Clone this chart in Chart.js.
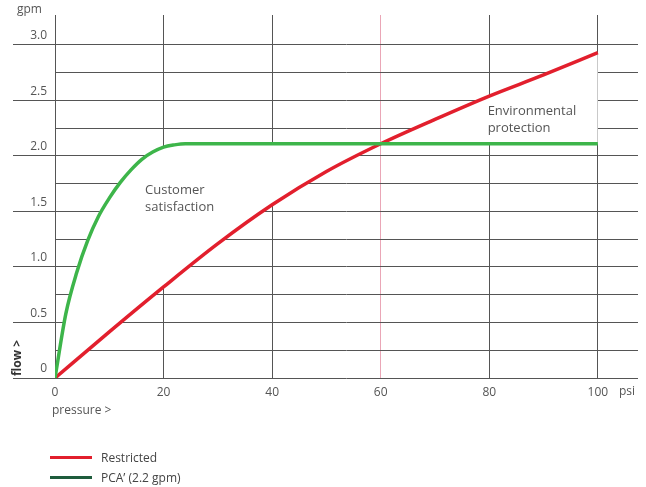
<!DOCTYPE html>
<html>
<head>
<meta charset="utf-8">
<script src="https://cdn.jsdelivr.net/npm/chart.js@4"></script>
<style>
    body { margin: 0; background: #fff; font-family: "Open Sans", sans-serif; }
    .chart-wrap { position: relative; width: 646px; height: 487px; }
    .chart-legend { position: absolute; left: 50px; top: 447px; font-size: 12px; color: #444; }
    .legend-item { display: flex; align-items: center; height: 20px; }
    .legend-line { width: 42px; height: 3px; margin-right: 9px; }
</style>
</head>
<body>
<div class="chart-wrap">
    <canvas id="flowChart"></canvas>
    <div class="chart-legend" id="flowLegend"></div>
</div>
<script>
// PCA curve: pressure (psi) / flow (gpm)
const pcaPressure = [0, 2, 4, 6, 8, 10, 12, 14, 16, 18, 20, 22, 24, 100];
const pcaFlow = [0, 0.58, 0.95, 1.235, 1.455, 1.62, 1.76, 1.875, 1.97, 2.035, 2.08, 2.10, 2.11, 2.11];
// Restricted curve
const restrictedPressure = [0, 10, 20, 30, 40, 50, 60, 70, 80, 90, 100];
const restrictedFlow = [0, 0.415, 0.82, 1.21, 1.56, 1.86, 2.11, 2.33, 2.54, 2.73, 2.93];

const xTicks = [0, 20, 40, 60, 80, 100];
const yTicks = [0, 0.25, 0.5, 0.75, 1.0, 1.25, 1.5, 1.75, 2.0, 2.25, 2.5, 2.75, 3.0];

const seriesNames = ['PCA\u2019 (2.2 gpm)', 'Restricted'];
const notes = [
    { x: 16.6, y: 1.69, lines: ['Customer', 'satisfaction'] },
    { x: 79.7, y: 2.40, lines: ['Environmental', 'protection'] }
];

const textColor = '#555';
const gridColor = '#555';

const toPoints = (xs, ys) => ys.map((y, i) => ({ x: xs[i], y }));

// axis captions and the two region notes
const captionPlugin = {
    id: 'captions',
    afterDraw(chart) {
        const { ctx, scales } = chart;
        ctx.save();
        ctx.fillStyle = textColor;
        ctx.textBaseline = 'middle';
        ctx.font = '12px "Open Sans"';
        ctx.textAlign = 'left';
        ctx.fillText('gpm', 17, 10);
        ctx.fillText('pressure >', 52, 411);
        ctx.fillText('psi', 619, 392);

        ctx.save();
        ctx.translate(18, 358);
        ctx.rotate(-Math.PI / 2);
        ctx.textAlign = 'center';
        ctx.font = 'bold 12px "Open Sans"';
        ctx.fillStyle = '#333';
        ctx.fillText('flow >', 0, 0);
        ctx.restore();

        ctx.font = '13px "Open Sans"';
        notes.forEach(n => {
            const px = scales.x.getPixelForValue(n.x);
            const py = scales.y.getPixelForValue(n.y);
            n.lines.forEach((l, i) => ctx.fillText(l, px, py + i * 17));
        });
        ctx.restore();
    }
};

const chart = new Chart(document.getElementById('flowChart'), {
    type: 'line',
    data: {
        datasets: [
            {
                label: seriesNames[0],
                data: toPoints(pcaPressure, pcaFlow),
                borderColor: '#3db54a',
                legendColor: '#1e5c3c',
                borderWidth: 3.5,
                pointRadius: 0,
                cubicInterpolationMode: 'monotone',
                fill: false
            },
            {
                label: seriesNames[1],
                data: toPoints(restrictedPressure, restrictedFlow),
                borderColor: '#e21f2d',
                legendColor: '#e21f2d',
                borderWidth: 3.5,
                pointRadius: 0,
                cubicInterpolationMode: 'monotone',
                // white band between the curves hides the grid there
                fill: { target: '-1', above: '#fff', below: '#fff' }
            }
        ]
    },
    options: {
        responsive: true,
        maintainAspectRatio: false,
        animation: false,
        layout: { padding: { top: 15, right: 8, left: 0, bottom: 0 } },
        plugins: {
            legend: { display: false },
            tooltip: { enabled: false }
        },
        scales: {
            x: {
                type: 'linear',
                min: 0,
                max: 107.4,
                afterBuildTicks: (scale) => { scale.ticks = xTicks.map(v => ({ value: v })); },
                afterFit: (scale) => { scale.height = 109; },
                border: { display: false },
                grid: {
                    drawTicks: false,
                    lineWidth: 1,
                    color: (c) => (c.tick && c.tick.value === 60 ? '#eaa6b6' : gridColor)
                },
                ticks: {
                    padding: 7,
                    color: textColor,
                    font: { family: 'Open Sans', size: 12 },
                    maxRotation: 0,
                    callback: (v) => String(v)
                }
            },
            y: {
                type: 'linear',
                min: 0,
                max: 3.27,
                afterBuildTicks: (scale) => { scale.ticks = yTicks.map(v => ({ value: v })); },
                afterFit: (scale) => { scale.width = 55; },
                border: { display: false },
                grid: {
                    lineWidth: 1,
                    color: gridColor,
                    tickLength: 42,
                    tickWidth: 1,
                    tickColor: (c) => (c.tick && c.tick.value % 0.5 === 0 ? gridColor : 'transparent')
                },
                ticks: {
                    padding: -34,
                    labelOffset: -9,
                    color: textColor,
                    font: { family: 'Open Sans', size: 12 },
                    callback: (v) => (v % 0.5 !== 0 ? '' : (v === 0 ? '0' : v.toFixed(1)))
                }
            }
        }
    },
    plugins: [captionPlugin]
});

// legend: Restricted first, then PCA
const legendEl = document.getElementById('flowLegend');
legendEl.innerHTML = [1, 0].map(i => {
    const ds = chart.data.datasets[i];
    return `<div class="legend-item"><span class="legend-line" style="background:${ds.legendColor}"></span>${ds.label}</div>`;
}).join('');
</script>
</body>
</html>
